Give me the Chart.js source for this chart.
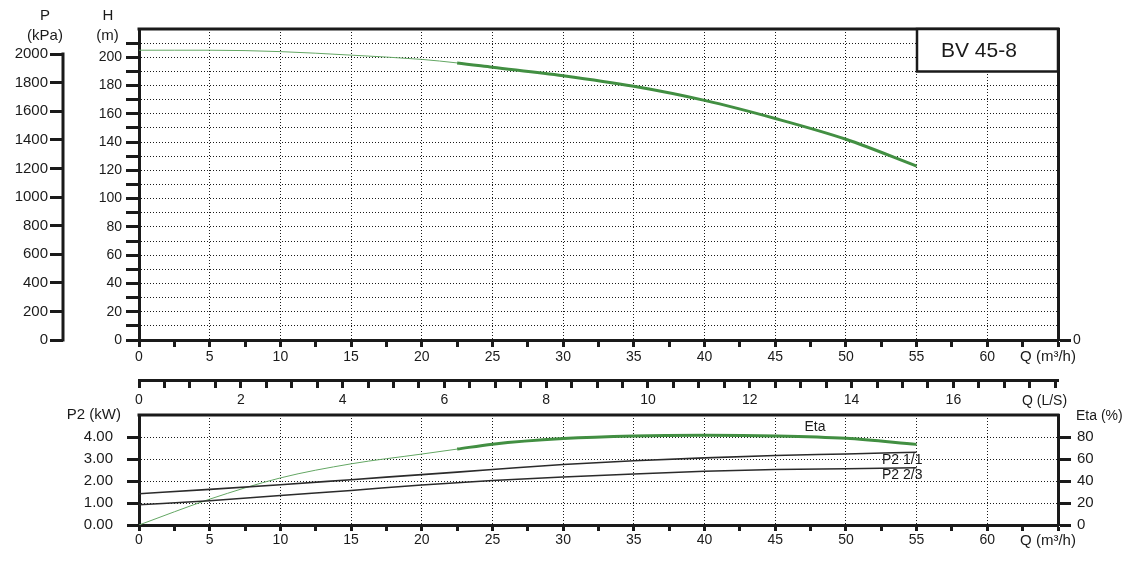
<!DOCTYPE html>
<html>
<head>
<meta charset="utf-8">
<title>BV 45-8 pump curves</title>
<script src="https://cdn.jsdelivr.net/npm/chart.js@4.4.1/dist/chart.umd.min.js"></script>
<style>
  html, body { margin: 0; padding: 0; background: #fff; }
  #wrap { position: relative; width: 1136px; height: 570px; overflow: hidden; }
  #wrap canvas { position: absolute; left: 0; }
  #headChart { top: 0; }
  #powerChart { top: 400px; }
</style>
</head>
<body>
<div id="wrap">
  <canvas id="headChart" width="1136" height="412"></canvas>
  <canvas id="powerChart" width="1136" height="170"></canvas>
</div>
<script>
// ========================================
// Curve data
// ========================================
const qHead = [0, 2.5, 5, 10, 15, 20, 22.5, 25, 30, 35, 40, 45, 50, 55];          // Q m³/h
const headM = [205, 205, 205, 204, 201.5, 198.5, 196, 193, 187, 179.5, 169.5, 156.7, 142, 123];
const etaPct = [0, 12, 23.5, 42.8, 55.6, 64.5, 69, 73.5, 78.6, 81, 81.6, 81, 78.8, 73.3];

const qPower = [0, 5, 10, 15, 20, 25, 30, 35, 40, 45, 50, 55];                    // Q m³/h
const p2Full = [1.42, 1.62, 1.83, 2.06, 2.29, 2.52, 2.75, 2.92, 3.05, 3.16, 3.23, 3.31];
const p2TwoThirds = [0.92, 1.10, 1.34, 1.57, 1.82, 2.02, 2.18, 2.32, 2.44, 2.52, 2.56, 2.60];

// tick values
const qTicks = [0, 2.5, 5, 7.5, 10, 12.5, 15, 17.5, 20, 22.5, 25, 27.5, 30, 32.5, 35,
  37.5, 40, 42.5, 45, 47.5, 50, 52.5, 55, 57.5, 60, 62.5, 65];
const lsTicks = [0, 0.5, 1, 1.5, 2, 2.5, 3, 3.5, 4, 4.5, 5, 5.5, 6, 6.5, 7, 7.5, 8, 8.5, 9,
  9.5, 10, 10.5, 11, 11.5, 12, 12.5, 13, 13.5, 14, 14.5, 15, 15.5, 16, 16.5, 17, 17.5, 18];
const headTicks = [0, 10, 20, 30, 40, 50, 60, 70, 80, 90, 100, 110, 120, 130, 140, 150,
  160, 170, 180, 190, 200, 210, 220];
const pressureTicks = [0, 200, 400, 600, 800, 1000, 1200, 1400, 1600, 1800, 2000];
const p2Ticks = [0, 1, 2, 3, 4];
const etaTicks = [0, 20, 40, 60, 80];

// ----------------------------------------
// Shared look
// ----------------------------------------
const FONT = 'Arial, "Liberation Sans", sans-serif';
const INK = '#1a1a1a';
const GREEN = '#428f42';
const GREEN_THIN = '#64a764';
const DOTS = [1, 2];

Chart.defaults.font.family = FONT;
Chart.defaults.font.size = 14;
Chart.defaults.color = INK;

const pts = (xs, ys) => xs.map((x, i) => ({ x, y: ys[i] }));
const useTicks = values => scale => { scale.ticks = values.map(v => ({ value: v })); };
// fixed axis box; label overhang padding is not wanted, the layout is set by hand
const fixedSize = size => scale => {
  if (scale.isHorizontal()) scale.height = size; else scale.width = size;
  scale.paddingTop = scale.paddingBottom = scale.paddingLeft = scale.paddingRight = 0;
};
const gridAt = test => c => (c.tick && test(c.tick.value)) ? INK : 'rgba(0,0,0,0)';
const qGrid = v => v % 5 === 0 && v > 0 && v < 65;
const qLabel = v => (v % 5 === 0 && v < 65) ? String(v) : '';

// thin line up to ~22 m³/h, bold in the working range
const workingRange = {
  borderWidth: c => c.p0.parsed.x < 22.5 ? 1 : 3,
  borderColor: c => c.p0.parsed.x < 22.5 ? GREEN_THIN : GREEN
};

function line(ctx, x1, y1, x2, y2) {
  ctx.beginPath();
  ctx.moveTo(x1, y1);
  ctx.lineTo(x2, y2);
  ctx.stroke();
}

function text(ctx, str, x, y, size, align) {
  ctx.font = size + 'px ' + FONT;
  ctx.textAlign = align || 'center';
  ctx.textBaseline = 'middle';
  ctx.fillText(str, x, y);
}

// ----------------------------------------
// 1. Head / pressure chart
// ----------------------------------------
const headDecor = {
  id: 'headDecor',
  afterDraw(chart) {
    const { ctx, chartArea: a, scales } = chart;
    ctx.save();
    ctx.strokeStyle = INK;
    ctx.fillStyle = INK;
    ctx.lineWidth = 3;
    line(ctx, a.left - 1.5, a.top, a.right + 1.5, a.top);

    // pressure spine only spans 0..2000 kPa
    const p = scales.yP;
    line(ctx, p.right, p.getPixelForValue(0) + 1.5, p.right, p.getPixelForValue(2000) - 1.5);

    // model box
    const bw = 141, bh = 42.5;
    ctx.fillStyle = '#fff';
    ctx.fillRect(a.right - bw, a.top, bw, bh);
    ctx.lineWidth = 2.5;
    ctx.strokeRect(a.right - bw, a.top, bw, bh);
    ctx.fillStyle = INK;
    text(ctx, 'BV 45-8', a.right - bw + 24, a.top + 22, 21, 'left');

    // axis titles
    text(ctx, 'P', 45, 16, 15);
    text(ctx, '(kPa)', 45, 36, 15);
    text(ctx, 'H', 108, 16, 15);
    text(ctx, '(m)', 107.5, 36, 15);
    text(ctx, 'Q (m³/h)', 1048, 357, 15);
    text(ctx, 'Q (L/S)', 1044.5, 401, 14);
    ctx.restore();
  }
};

new Chart(document.getElementById('headChart'), {
  type: 'line',
  data: {
    datasets: [{
      label: 'H',
      data: pts(qHead, headM),
      xAxisID: 'x',
      yAxisID: 'yH',
      borderColor: GREEN,
      borderWidth: 3,
      pointRadius: 0,
      cubicInterpolationMode: 'monotone',
      segment: workingRange
    }]
  },
  options: {
    responsive: false,
    animation: false,
    layout: { padding: { top: 29 } },
    plugins: { legend: { display: false }, tooltip: { enabled: false } },
    scales: {
      x: {
        type: 'linear', position: 'bottom', weight: 0, min: 0, max: 65,
        afterBuildTicks: useTicks(qTicks), afterFit: fixedSize(40),
        ticks: { autoSkip: false, maxRotation: 0, padding: 2, callback: qLabel },
        grid: { color: gridAt(qGrid), lineWidth: 1, tickColor: INK, tickLength: 7, tickWidth: 3 },
        border: { color: INK, width: 3, dash: DOTS }
      },
      ls: {
        type: 'linear', position: 'bottom', weight: 1, min: 0, max: 65 / 3.6,
        afterBuildTicks: useTicks(lsTicks), afterFit: fixedSize(32),
        ticks: { autoSkip: false, maxRotation: 0, padding: 4,
          callback: v => (v % 2 === 0 && v <= 16) ? String(v) : '' },
        grid: { drawOnChartArea: false, tickColor: INK, tickLength: 8, tickWidth: 3 },
        border: { color: INK, width: 3 }
      },
      yH: {
        type: 'linear', position: 'left', weight: 0, min: 0, max: 220,
        afterBuildTicks: useTicks(headTicks), afterFit: fixedSize(76),
        ticks: { autoSkip: false, padding: 4, callback: v => (v % 20 === 0 && v <= 200) ? String(v) : '' },
        grid: { color: gridAt(v => v > 0 && v < 220), lineWidth: 1,
          tickColor: c => c.tick && c.tick.value < 220 ? INK : 'rgba(0,0,0,0)', tickLength: 13, tickWidth: 3 },
        border: { color: INK, width: 3, dash: DOTS }
      },
      yP: {
        type: 'linear', position: 'left', weight: 1, min: 0, max: 2175,
        afterBuildTicks: useTicks(pressureTicks), afterFit: fixedSize(63),
        ticks: { autoSkip: false, padding: 2, font: { size: 15 }, callback: v => String(v) },
        grid: { drawOnChartArea: false, tickColor: INK, tickLength: 13, tickWidth: 3 },
        border: { display: false }
      },
      yR: {
        type: 'linear', position: 'right', min: 0, max: 220,
        afterBuildTicks: useTicks([0]), afterFit: fixedSize(78),
        ticks: { padding: 2 },
        grid: { drawOnChartArea: false, tickColor: INK, tickLength: 13, tickWidth: 3 },
        border: { color: INK, width: 3 }
      }
    }
  },
  plugins: [headDecor]
});

// ----------------------------------------
// 2. Power / efficiency chart
// ----------------------------------------
const powerDecor = {
  id: 'powerDecor',
  afterDraw(chart) {
    const { ctx, chartArea: a } = chart;
    ctx.save();
    ctx.strokeStyle = INK;
    ctx.fillStyle = INK;
    ctx.lineWidth = 3;
    line(ctx, a.left - 1.5, a.top, a.right + 1.5, a.top);

    text(ctx, 'P2 (kW)', 121, 15, 15, 'right');
    text(ctx, 'Eta (%)', 1076, 16, 14, 'left');
    text(ctx, 'Q (m³/h)', 1048, 141, 15);
    text(ctx, 'Eta', 815, 27, 14);
    text(ctx, 'P2 1/1', 882, 60.5, 14, 'left');
    text(ctx, 'P2 2/3', 882, 75.5, 14, 'left');
    ctx.restore();
  }
};

new Chart(document.getElementById('powerChart'), {
  type: 'line',
  data: {
    datasets: [
      {
        label: 'P2 1/1',
        data: pts(qPower, p2Full),
        yAxisID: 'yP2',
        borderColor: '#2b2b2b',
        borderWidth: 1.6,
        pointRadius: 0,
        cubicInterpolationMode: 'monotone'
      },
      {
        label: 'P2 2/3',
        data: pts(qPower, p2TwoThirds),
        yAxisID: 'yP2',
        borderColor: '#2b2b2b',
        borderWidth: 1.6,
        pointRadius: 0,
        cubicInterpolationMode: 'monotone'
      },
      {
        label: 'Eta',
        data: pts(qHead, etaPct),
        yAxisID: 'yEta',
        borderColor: GREEN,
        borderWidth: 3,
        pointRadius: 0,
        cubicInterpolationMode: 'monotone',
        segment: workingRange
      }
    ]
  },
  options: {
    responsive: false,
    animation: false,
    layout: { padding: { top: 15 } },
    plugins: { legend: { display: false }, tooltip: { enabled: false } },
    scales: {
      x: {
        type: 'linear', position: 'bottom', min: 0, max: 65,
        afterBuildTicks: useTicks(qTicks), afterFit: fixedSize(45),
        ticks: { autoSkip: false, maxRotation: 0, padding: 1, callback: qLabel },
        grid: { color: gridAt(qGrid), lineWidth: 1, tickColor: INK, tickLength: 6, tickWidth: 3 },
        border: { color: INK, width: 3, dash: DOTS }
      },
      yP2: {
        type: 'linear', position: 'left', min: 0, max: 5,
        afterBuildTicks: useTicks(p2Ticks), afterFit: fixedSize(139),
        ticks: { autoSkip: false, padding: 14, font: { size: 15 }, callback: v => v.toFixed(2) },
        grid: { color: gridAt(v => v > 0), lineWidth: 1, tickColor: INK, tickLength: 12, tickWidth: 3 },
        border: { color: INK, width: 3, dash: DOTS }
      },
      yEta: {
        type: 'linear', position: 'right', min: 0, max: 100,
        afterBuildTicks: useTicks(etaTicks), afterFit: fixedSize(78),
        ticks: { autoSkip: false, padding: 6, font: { size: 15 } },
        grid: { drawOnChartArea: false, tickColor: INK, tickLength: 13, tickWidth: 3 },
        border: { color: INK, width: 3 }
      }
    }
  },
  plugins: [powerDecor]
});
</script>
</body>
</html>
